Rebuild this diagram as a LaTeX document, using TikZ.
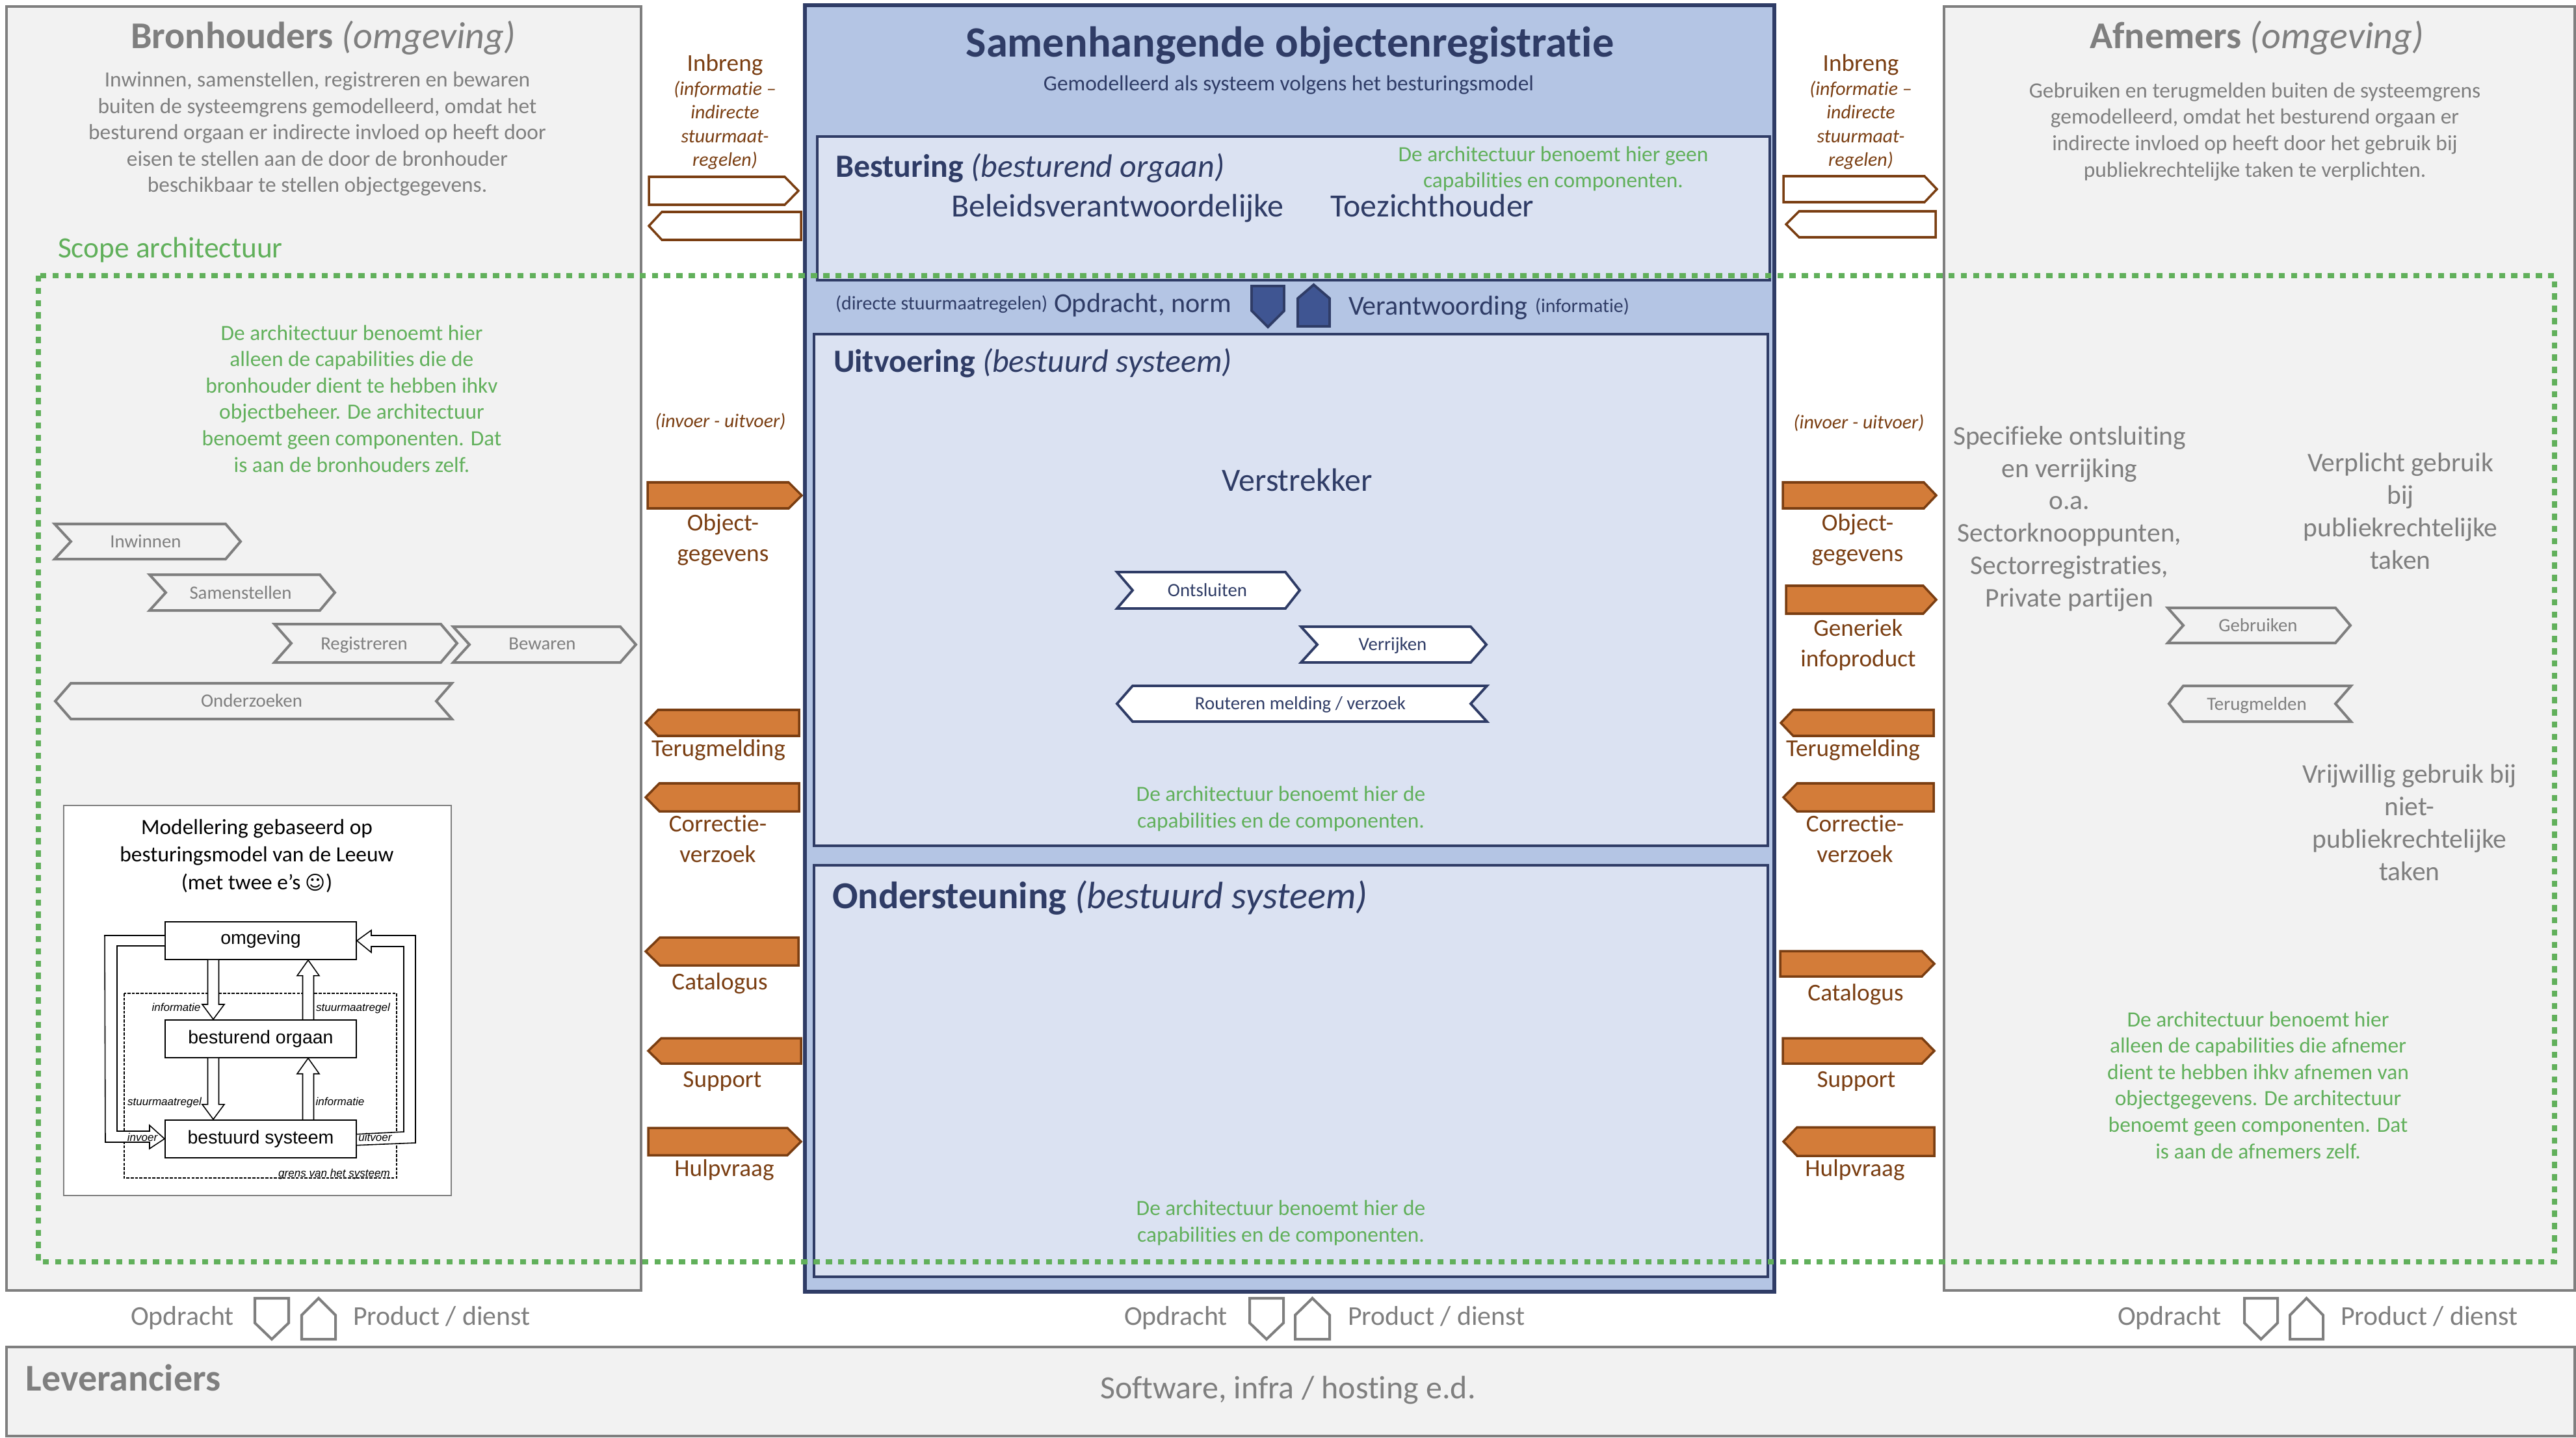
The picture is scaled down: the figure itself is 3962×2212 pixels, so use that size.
\documentclass[tikz,border=0pt]{standalone}
\usepackage{fontspec}
\setmainfont{Carlito}[Ligatures=NoCommon]
\newfontfamily\symfont{DejaVu Sans}
\newfontfamily\scanfont{Liberation Sans}
\usetikzlibrary{positioning}
\usetikzlibrary{calc}
\definecolor{boxgrey}{HTML}{7F7F7F}
\definecolor{boxfill}{HTML}{F2F2F2}
\definecolor{sysnavy}{HTML}{2F3C66}
\definecolor{sysfill}{HTML}{B4C5E4}
\definecolor{panelfill}{HTML}{DBE2F2}
\definecolor{sysblue}{HTML}{3F5592}
\definecolor{scopegreen}{HTML}{61B05B}
\definecolor{flowbrown}{HTML}{7A3E12}
\definecolor{flowfill}{HTML}{D37C39}
\newcommand{\fsize}[2]{\fontsize{#1pt}{#2pt}\selectfont}
\tikzset{
  % one unit is one pixel of the picture
  % a text with more lines stands on the baseline of its last line
  lbl/.style = {
    anchor = base,
    inner sep = 0,
    outer sep = 0,
    align = center,
    yshift = -0.02cm
  },
  % outer boxes
  env box/.style = {
    draw = boxgrey,
    fill = boxfill,
    line width = 1.14pt
  },
  sys box/.style = {
    draw = sysnavy,
    fill = sysfill,
    line width = 1.8pt
  },
  panel box/.style = {
    draw = sysnavy,
    fill = panelfill,
    line width = 1.3pt
  },
  scope box/.style = {
    draw = scopegreen,
    line width = 2.3pt,
    dash pattern = on 2.7pt off 2.65pt
  },
  % arrows between the columns
  flow open/.style = {
    draw = flowbrown,
    fill = white,
    line width = 1pt
  },
  flow full/.style = {
    draw = flowbrown,
    fill = flowfill,
    line width = 1pt
  },
  chev grey/.style = {
    draw = boxgrey,
    line width = 1.14pt
  },
  chev navy/.style = {
    draw = sysnavy,
    fill = white,
    line width = 1.1pt
  },
  % texts
  grey head/.style = {lbl, text = boxgrey, font = \fsize{16.5}{20}},
  grey body/.style = {lbl, text = boxgrey, font = \fsize{9.5}{11.52}},
  grey side/.style = {lbl, text = boxgrey, font = \fsize{11.8}{14.14}},
  grey foot/.style = {lbl, text = boxgrey, font = \fsize{11.9}{14}},
  green note/.style = {lbl, text = scopegreen, font = \fsize{9.5}{11.52}},
  brown head/.style = {lbl, text = flowbrown, font = \fsize{10.6}{13.09}},
  brown small/.style = {lbl, text = flowbrown, font = \fsize{8.5}{10.38}\itshape},
  navy head/.style = {lbl, text = sysnavy, font = \fsize{14.2}{18}},
  navy name/.style = {lbl, text = sysnavy, font = \fsize{14.2}{17}},
  navy mid/.style = {lbl, anchor = base west, text = sysnavy, font = \fsize{12}{15}},
  navy note/.style = {lbl, anchor = base west, text = sysnavy, font = \fsize{8.5}{11}},
  chev grey text/.style = {lbl, text = boxgrey, font = \fsize{8.2}{10}},
  chev navy text/.style = {lbl, text = sysnavy, font = \fsize{8.2}{10}},
  % inset with the model
  scan box/.style = {
    draw = black,
    fill = white,
    line width = 0.5pt,
    minimum width = 2.94cm,
    minimum height = 0.58cm,
    font = \scanfont\fsize{8.1}{10}
  },
  scan arrow/.style = {
    draw = black,
    fill = white,
    line width = 0.45pt
  },
  scan text/.style = {
    lbl,
    font = \scanfont\fsize{4.85}{6}\itshape
  },
  node distance = 0.5cm
}

\begin{document}
\begin{tikzpicture}[x=0.01cm,y=-0.01cm]
    \useasboundingbox (0,0) rectangle (3962,2212);

    % environment boxes
    \draw[env box] (10,10) rectangle (986,1985);
    \draw[env box] (2990,10) rectangle (3960,1985);
    \draw[env box] (10,2072) rectangle (3960,2209);

    % the system
    \draw[sys box] (1238,8) rectangle (2729,1987);
    \draw[panel box] (1257,210) rectangle (2722,431);
    \draw[panel box] (1252,514) rectangle (2719,1301);
    \draw[panel box] (1252,1331) rectangle (2719,1964);

    % texts of the left box
    \node[grey head] (bron title) at (497,73) {\textbf{Bronhouders} \textit{(omgeving)}};
    \node[grey body] (bron text) at (488,294) {Inwinnen, samenstellen, registreren en bewaren\\
      buiten de systeemgrens gemodelleerd, omdat het\\
      besturend orgaan er indirecte invloed op heeft door\\
      eisen te stellen aan de door de bronhouder\\
      beschikbaar te stellen objectgegevens.};
    \node[lbl, anchor = base west, text = scopegreen, font = \fsize{12.9}{15}] (scope label) at (89,394) {Scope architectuur};
    \node[green note] (bron note) at (541,724) {De architectuur benoemt hier\\
      alleen de capabilities die de\\
      bronhouder dient te hebben ihkv\\
      objectbeheer. De architectuur\\
      benoemt geen componenten. Dat\\
      is aan de bronhouders zelf.};

    % grey steps, chevrons to the right
    \foreach \xl/\xn/\xs/\xr/\yt/\yb in {
      84/109/347/370/806/860,
      230/255/492/515/884/939,
      422/448/678/703/960/1019,
      697/722/954/978/964/1019,
      3334/3358/3592/3615/935/989}
      \draw[chev grey] (\xl,\yt) -- (\xs,\yt) -- (\xr,{(\yt+\yb)/2}) -- (\xs,\yb) -- (\xl,\yb) -- (\xn,{(\yt+\yb)/2}) -- cycle;
    % grey steps, chevrons to the left
    \foreach \xl/\xs/\xn/\xr/\yt/\yb in {
      85/109/671/695/1051/1106,
      3336/3358/3592/3616/1055/1110}
      \draw[chev grey] (\xr,\yt) -- (\xs,\yt) -- (\xl,{(\yt+\yb)/2}) -- (\xs,\yb) -- (\xr,\yb) -- (\xn,{(\yt+\yb)/2}) -- cycle;

    \node[chev grey text] (inwinnen) at (224,840) {Inwinnen};
    \node[chev grey text] (samenstellen) at (370,919) {Samenstellen};
    \node[chev grey text] (registreren) at (560,997) {Registreren};
    \node[chev grey text] (bewaren) at (834,997) {Bewaren};
    \node[chev grey text] (onderzoeken) at (387,1085) {Onderzoeken};

    % inset with the model
    \draw[draw = boxgrey, fill = white, line width = 0.4pt] (98,1239) rectangle (694,1839);
    \node[lbl, font = \fsize{9.5}{11.95}] (inset title) at (395,1366) {Modellering gebaseerd op\\
      besturingsmodel van de Leeuw\\
      (met twee e’s {\symfont\fsize{8.5}{11.95}☺})};

    \node[scan box] (omgeving) at (401,1447) {\raisebox{0.1cm}{omgeving}};
    \node[scan box] (orgaan) [below=0.91cm of omgeving] {besturend orgaan};
    \node[scan box] (systeem) [below=0.94cm of orgaan] {bestuurd systeem};

    \draw[dash pattern = on 1.3pt off 0.6pt, line width = 0.45pt] (191,1528) rectangle (610,1812);

    \foreach \from/\to in {omgeving/orgaan, orgaan/systeem} {
      % down, at the left
      \draw[scan arrow] ($(\from.south)+(-81.5,0)$)
        -- ($(\to.north)+(-81.5,-23)$)
        -- ($(\to.north)+(-90,-23)$)
        -- ($(\to.north)+(-73,0)$)
        -- ($(\to.north)+(-56,-23)$)
        -- ($(\to.north)+(-64.5,-23)$)
        -- ($(\from.south)+(-64.5,0)$);
      % up, at the right
      \draw[scan arrow] ($(\to.north)+(64.5,0)$)
        -- ($(\from.south)+(64.5,24)$)
        -- ($(\from.south)+(56,24)$)
        -- ($(\from.south)+(73,0)$)
        -- ($(\from.south)+(90,24)$)
        -- ($(\from.south)+(81.5,24)$)
        -- ($(\to.north)+(81.5,0)$);
    }

    % invoer loop
    \draw[scan arrow] ($(omgeving.west)+(0,-8)$)
      -- ++(-92,0)
      -- (162,1757)
      -- (230,1757)
      -- (230,1767)
      -- (systeem.west)
      -- (230,1731)
      -- (230,1740)
      -- (180,1740)
      -- (180,1455)
      -- ($(omgeving.west)+(0,8)$);
    % uitvoer loop
    \draw[scan arrow] ($(systeem.east)+(0,-7)$)
      -- (621,1741)
      -- (621,1456)
      -- (571,1456)
      -- (571,1465)
      -- (omgeving.east)
      -- (571,1431)
      -- (571,1439)
      -- (639,1439)
      -- (639,1758)
      -- ($(systeem.east)+(0,10)$);

    \node[scan text] (scan info1) at (271,1553) {informatie};
    \node[scan text] (scan stuur1) at (543,1553) {stuurmaatregel};
    \node[scan text] (scan stuur2) at (253,1698) {stuurmaatregel};
    \node[scan text] (scan info2) at (523,1698) {informatie};
    \node[scan text] (scan invoer) at (219,1753) {invoer};
    \node[scan text] (scan uitvoer) at (577,1753) {uitvoer};
    \node[scan text] (scan grens) at (514,1808) {grens van het systeem};

    % left column
    \node[brown head] (inbreng l) at (1115,107) {Inbreng};
    \node[brown small] (inbreng l text) at (1115,254) {(informatie –\\indirecte\\stuurmaat-\\regelen)};
    \node[brown small] (io l) at (1108,655) {(invoer - uitvoer)};
    \node[brown head] (obj l) at (1112,861) {Object-\\gegevens};
    \node[brown head] (terug l) at (1105,1161) {Terugmelding};
    \node[brown head] (corr l) at (1104,1324) {Correctie-\\verzoek};
    \node[brown head] (cat l) at (1107,1520) {Catalogus};
    \node[brown head] (sup l) at (1111,1670) {Support};
    \node[brown head] (hulp l) at (1114,1807) {Hulpvraag};

    % right column
    \node[brown head] (inbreng r) at (2862,107) {Inbreng};
    \node[brown small] (inbreng r text) at (2862,254) {(informatie –\\indirecte\\stuurmaat-\\regelen)};
    \node[brown small] (io r) at (2859,657) {(invoer - uitvoer)};
    \node[brown head] (obj r) at (2857,861) {Object-\\gegevens};
    \node[brown head] (gen r) at (2858,1023) {Generiek\\infoproduct};
    \node[brown head] (terug r) at (2850,1161) {Terugmelding};
    \node[brown head] (corr r) at (2853,1324) {Correctie-\\verzoek};
    \node[brown head] (cat r) at (2854,1537) {Catalogus};
    \node[brown head] (sup r) at (2855,1670) {Support};
    \node[brown head] (hulp r) at (2853,1807) {Hulpvraag};

    % open arrows
    \draw[flow open] (998,272) -- (1207,272) -- (1228,293.5) -- (1207,315) -- (998,315) -- cycle;
    \draw[flow open] (1232,326) -- (1018,326) -- (998,347.5) -- (1018,369) -- (1232,369) -- cycle;
    \draw[flow open] (2743,271) -- (2960,271) -- (2979,291) -- (2960,311) -- (2743,311) -- cycle;
    \draw[flow open] (2977,325) -- (2767,325) -- (2747,345) -- (2767,365) -- (2977,365) -- cycle;

    % full arrows to the right
    \foreach \xl/\xs/\xr/\yt/\yb in {
      996/1213/1233/742/782,
      997/1211/1232/1735/1777,
      2742/2959/2978/742/782,
      2747/2958/2978/901/944,
      2738/2956/2975/1463/1502,
      2742/2956/2975/1597/1636}
      \draw[flow full] (\xl,\yt) -- (\xs,\yt) -- (\xr,{(\yt+\yb)/2}) -- (\xs,\yb) -- (\xl,\yb) -- cycle;
    % full arrows to the left
    \foreach \xl/\xs/\xr/\yt/\yb in {
      993/1012/1229/1092/1132,
      993/1014/1229/1205/1248,
      993/1015/1228/1442/1485,
      997/1017/1232/1597/1636,
      2739/2758/2974/1092/1132,
      2743/2764/2974/1205/1248,
      2743/2764/2975/1734/1778}
      \draw[flow full] (\xr,\yt) -- (\xs,\yt) -- (\xl,{(\yt+\yb)/2}) -- (\xs,\yb) -- (\xr,\yb) -- cycle;

    % texts of the system
    \node[lbl, text = sysnavy, font = \fsize{18.9}{22}\bfseries] (sys title) at (1984,86) {Samenhangende objectenregistratie};
    \node[lbl, text = sysnavy, font = \fsize{9.5}{11.5}] (sys sub) at (1982,137) {Gemodelleerd als systeem volgens het besturingsmodel};

    \node[navy head, anchor = base west] (bes head) at (1285,270) {\textbf{Besturing} \textit{(besturend orgaan)}};
    \node[navy name] (beleid) at (1719,331) {Beleidsverantwoordelijke};
    \node[navy name] (toezicht) at (2203,331) {Toezichthouder};
    \node[green note] (bes note) at (2389,287) {De architectuur benoemt hier geen\\capabilities en componenten.};

    \node[navy note] (stuur note) at (1285,474) {(directe stuurmaatregelen)};
    \node[navy mid] (opdracht) at (1621,478) {Opdracht, norm};
    \node[navy mid] (verantw) at (2074,482) {Verantwoording};
    \node[navy note] (info note) at (2361,478) {(informatie)};

    \draw[draw = sysnavy, fill = sysblue, line width = 1.1pt] (1925,440) -- (1975,440) -- (1975,478) -- (1950,503) -- (1925,478) -- cycle;
    \draw[draw = sysnavy, fill = sysblue, line width = 1.1pt] (1996,502) -- (1996,459) -- (2020.5,438) -- (2045,459) -- (2045,502) -- cycle;

    \node[navy head, anchor = base west] (uit head) at (1282,570) {\textbf{Uitvoering} \textit{(bestuurd systeem)}};
    \node[navy name] (verstrekker) at (1995,753) {Verstrekker};

    \draw[chev navy] (1718,880) -- (1977,880) -- (1999,908) -- (1977,936) -- (1718,936) -- (1742,908) -- cycle;
    \draw[chev navy] (2001,964) -- (2262,964) -- (2286,991.5) -- (2262,1019) -- (2001,1019) -- (2026,991.5) -- cycle;
    \draw[chev navy] (2287,1055) -- (1742,1055) -- (1718,1082.5) -- (1742,1110) -- (2287,1110) -- (2262,1082.5) -- cycle;
    \node[chev navy text] (ontsluiten) at (1857,915) {Ontsluiten};
    \node[chev navy text] (verrijken) at (2142,998) {Verrijken};
    \node[chev navy text] (routeren) at (2000,1089) {Routeren melding / verzoek};

    \node[green note] (uit note) at (1970,1271) {De architectuur benoemt hier de\\capabilities en de componenten.};

    \node[lbl, anchor = base west, text = sysnavy, font = \fsize{16.65}{20}] (ond head) at (1280,1395) {\textbf{Ondersteuning} \textit{(bestuurd systeem)}};
    \node[green note] (ond note) at (1970,1908) {De architectuur benoemt hier de\\capabilities en de componenten.};

    % texts of the right box
    \node[grey head] (afn title) at (3471,73) {\textbf{Afnemers} \textit{(omgeving)}};
    \node[grey body] (afn text) at (3468,270) {Gebruiken en terugmelden buiten de systeemgrens\\
      gemodelleerd, omdat het besturend orgaan er\\
      indirecte invloed op heeft door het gebruik bij\\
      publiekrechtelijke taken te verplichten.};
    \node[grey side] (afn spec) at (3183,931) {Specifieke ontsluiting\\en verrijking\\o.a.\\Sectorknooppunten,\\Sectorregistraties,\\Private partijen};
    \node[grey side] (afn plicht) at (3692,873) {Verplicht gebruik\\bij\\publiekrechtelijke\\taken};
    \node[grey side] (afn vrij) at (3706,1352) {Vrijwillig gebruik bij\\niet-\\publiekrechtelijke\\taken};
    \node[chev grey text] (gebruiken) at (3473,969) {Gebruiken};
    \node[chev grey text] (terugmelden) at (3471,1090) {Terugmelden};
    \node[green note] (afn note) at (3473,1780) {De architectuur benoemt hier\\
      alleen de capabilities die afnemer\\
      dient te hebben ihkv afnemen van\\
      objectgegevens. De architectuur\\
      benoemt geen componenten. Dat\\
      is aan de afnemers zelf.};

    % suppliers
    \foreach \xa/\xb/\xc/\xd/\xe/\xf [count=\i] in {
      360/392/444/464/516/543,
      1888/1922/1974/1992/2045/2073,
      3416/3452/3503/3522/3573/3600} {
      \node[grey foot, anchor = base east] (opdracht \i) at (\xa,2036) {Opdracht};
      \node[grey foot, anchor = base west] (product \i) at (\xf,2036) {Product / dienst};
      \draw[chev grey] (\xb,1997) -- (\xc,1997) -- (\xc,2035) -- ({(\xb+\xc)/2},2060) -- (\xb,2035) -- cycle;
      \draw[chev grey] (\xd,2060) -- (\xd,2023) -- ({(\xd+\xe)/2},1997) -- (\xe,2023) -- (\xe,2060) -- cycle;
    }
    \node[lbl, anchor = base west, text = boxgrey, font = \fsize{16.5}{19}\bfseries] (lev title) at (40,2137) {Leveranciers};
    \node[lbl, text = boxgrey, font = \fsize{14.2}{18}] (lev text) at (1981,2149) {Software, infra / hosting e.d.};

    % scope of the architecture
    \draw[scope box] (59,424) rectangle (3929,1941);
  \end{tikzpicture}
\end{document}
